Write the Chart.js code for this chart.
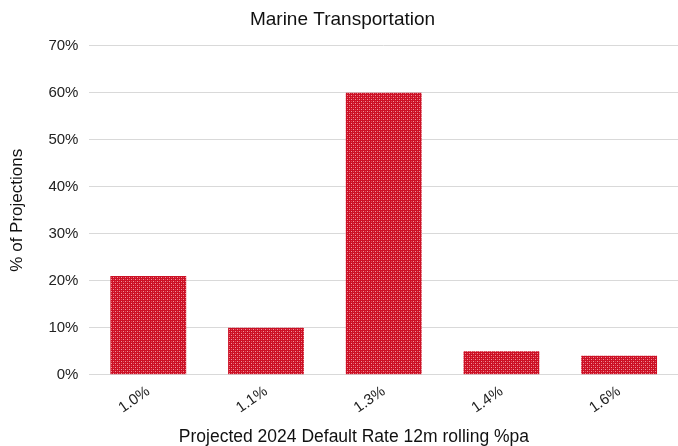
<!DOCTYPE html>
<html>
<head>
<meta charset="utf-8">
<script src="https://cdn.jsdelivr.net/npm/chart.js@4/dist/chart.umd.min.js"></script>
<style>
  html, body { margin: 0; padding: 0; background: #fff; }
  #wrap { width: 678px; height: 446px; }
</style>
</head>
<body>
<div id="wrap"><canvas id="c" width="678" height="446"></canvas></div>
<script>
const categories = ['1.0%', '1.1%', '1.3%', '1.4%', '1.6%'];
const projectionShare = [21, 10, 60, 5, 4];
const yTicks = [0, 10, 20, 30, 40, 50, 60, 70];
const xAxisTitle = 'Projected 2024 Default Rate 12m rolling %pa';

// Small dotted red fill for the bars
function dotPattern() {
  const p = document.createElement('canvas');
  p.width = 4; p.height = 4;
  const g = p.getContext('2d');
  g.fillStyle = '#cc0f24';
  g.fillRect(0, 0, 4, 4);
  g.fillStyle = '#ef939c';
  g.fillRect(1, 1, 1, 1);
  g.fillRect(3, 3, 1, 1);
  g.fillStyle = '#dc4a58';
  g.fillRect(3, 1, 1, 1);
  g.fillRect(1, 3, 1, 1);
  return g.createPattern(p, 'repeat');
}

const font = 'Liberation Sans, Arial, sans-serif';
Chart.defaults.font.family = font;
Chart.defaults.color = '#222';

// Category-axis title, drawn beneath the rotated tick labels
const xTitlePlugin = {
  id: 'xTitle',
  afterDraw(chart) {
    const ctx = chart.ctx;
    ctx.save();
    ctx.font = '17.5px ' + font;
    ctx.fillStyle = '#111';
    ctx.textAlign = 'center';
    ctx.textBaseline = 'middle';
    ctx.fillText(xAxisTitle, chart.width * 0.522, chart.height - 9);
    ctx.restore();
  }
};

new Chart(document.getElementById('c'), {
  type: 'bar',
  data: {
    labels: categories,
    datasets: [{
      data: projectionShare,
      backgroundColor: dotPattern(),
      borderWidth: 0,
      categoryPercentage: 1.0,
      barPercentage: 0.644
    }]
  },
  options: {
    responsive: false,
    animation: false,
    layout: { padding: { left: 7, right: 0, top: 8, bottom: 21 } },
    plugins: {
      legend: { display: false },
      tooltip: { enabled: false },
      title: {
        display: true,
        text: 'Marine Transportation',
        font: { size: 19, weight: 'normal', family: font },
        color: '#111',
        padding: { top: 0, bottom: 15 }
      }
    },
    scales: {
      x: {
        grid: { display: false, drawTicks: false },
        border: { display: true, color: '#d9d9d9', width: 1 },
        ticks: {
          font: { size: 15, family: font },
          color: '#222',
          maxRotation: 35,
          minRotation: 35,
          padding: 8
        },
        title: { display: false }
      },
      y: {
        min: 0,
        max: 70,
        afterBuildTicks: (axis) => { axis.ticks = yTicks.map(v => ({ value: v })); },
        grid: { color: '#d9d9d9', drawTicks: false },
        border: { display: false },
        ticks: {
          font: { size: 15, family: font },
          color: '#222',
          padding: 11,
          callback: (v) => v + '%'
        },
        title: {
          display: true,
          text: '% of Projections',
          font: { size: 17, family: font },
          color: '#111',
          padding: { top: 0, bottom: 10 }
        }
      }
    }
  },
  plugins: [xTitlePlugin]
});
</script>
</body>
</html>
